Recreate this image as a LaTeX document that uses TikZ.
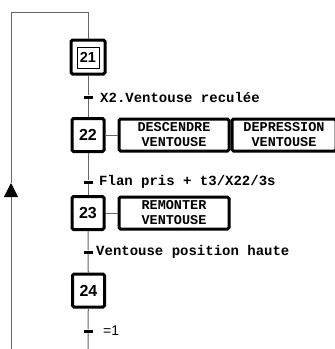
\documentclass[tikz,border=0pt]{standalone}
\usepackage{fontspec}
\setmainfont{Liberation Sans}
\setmonofont{Liberation Mono}
\usetikzlibrary{arrows.meta}
\begin{document}
\begin{tikzpicture}[x=1pt,y=-1pt,
  link/.style={draw=black!60, line width=1pt},
  stepbox/.style={draw, line width=3pt, rounded corners=1.5pt, minimum width=32pt,
    minimum height=33pt, inner sep=0pt, fill=white, font=\fontsize{16}{16}\selectfont\bfseries},
  initbox/.style={stepbox, minimum width=34pt, minimum height=34pt},
  innerbox/.style={draw, line width=1pt, minimum width=22pt, minimum height=21pt, inner sep=0pt,
    font=\fontsize{14.5}{14.5}\selectfont\bfseries},
  actionbox/.style={draw, line width=3pt, rounded corners=1.5pt, minimum height=32pt,
    inner sep=0pt, align=center, fill=white, font=\fontsize{13.5}{15}\selectfont\ttfamily\bfseries},
  tbar/.style={fill=black, minimum width=9pt, minimum height=3pt, inner sep=0pt},
  tlabel/.style={anchor=west, inner sep=0pt, font=\fontsize{14}{14}\selectfont\ttfamily\bfseries}
]
\useasboundingbox (0,0) rectangle (335,349);

% steps
\node[initbox] (s21) at (88,57) {};
\node[innerbox] (s21in) at (88,57.5) {21};
\node[stepbox] (s22) at (88,135) {22};
\node[stepbox] (s23) at (88,213) {23};
\node[stepbox] (s24) at (88.5,290.5) {24};

% actions
\node[actionbox, minimum width=110pt] (a22a) at (174,135) {DESCENDRE\\VENTOUSE};
\node[actionbox, minimum width=104pt, anchor=west] (a22b) at (a22a.east) {DEPRESSION\\VENTOUSE};
\node[actionbox, minimum width=110pt] (a23) at (174,213) {REMONTER\\VENTOUSE};

% transitions
\node[tbar] (t1) at (88,97) {};
\node[tbar] (t2) at (88,182) {};
\node[tbar] (t3) at (88,252) {};
\node[tbar] (t4) at (88,331) {};
\node[tlabel] (l1) at (100,97) {X2.Ventouse reculée};
\node[tlabel] (l2) at (99,182) {Flan pris + t3/X22/3s};
\node[tlabel] (l3) at (96,252) {Ventouse position haute};
\node[anchor=west, inner sep=0pt, font=\fontsize{14}{14}\selectfont] (l4) at (103,331) {=1};

% return loop
\coordinate (top) at (88,12);
\coordinate (topleft) at (11,12);
\coordinate (arrowtip) at (11,183);
\coordinate (bottomleft) at (11,349);
\coordinate (bottom) at (88,349);

\draw[link] (s21) -- (t1) -- (s22);
\draw[link] (s22) -- (t2) -- (s23);
\draw[link] (s23) -- (t3) -- (s24);
\draw[link] (s24) -- (t4) -- (bottom);
\draw[link] (s22) -- (a22a);
\draw[link] (s23) -- (a23);
\draw[link] (arrowtip) -- (topleft) -- (top) -- (s21);
\draw[link, -{Triangle[length=14pt, width=14pt, color=black]}] (bottomleft) -- (arrowtip);
\end{tikzpicture}
\end{document}
